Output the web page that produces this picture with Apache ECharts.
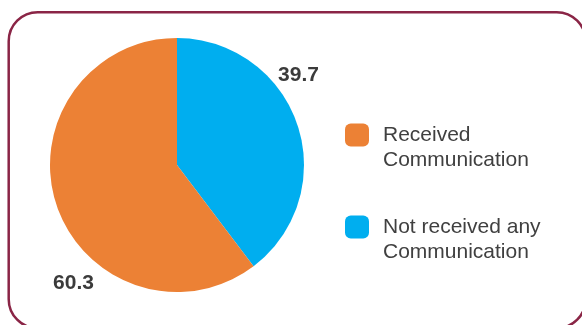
<!DOCTYPE html>
<html>
<head>
<meta charset="utf-8">
<script src="https://cdn.jsdelivr.net/npm/echarts@6/dist/echarts.min.js"></script>
<style>
  html, body { margin: 0; padding: 0; background: #ffffff; }
  #chart { width: 582px; height: 325px; }
</style>
</head>
<body>
<div id="chart"></div>
<script>
// Share of respondents by communication received
const categories = ['Not received any\nCommunication', 'Received\nCommunication'];
const shares = [39.7, 60.3];
const colors = ['#00AEEF', '#EC8135'];
const legendOrder = ['Received\nCommunication', 'Not received any\nCommunication'];

// Where each value label sits (pixels), indexed like the data
const labelSpots = [[298.5, 75], [73.5, 283]];

const chart = echarts.init(document.getElementById('chart'), null, { renderer: 'canvas' });

chart.setOption({
  backgroundColor: '#ffffff',
  animation: false,
  graphic: [{
    type: 'rect',
    shape: { x: 8.7, y: 12.2, width: 577, height: 316, r: 29 },
    style: { fill: 'none', stroke: '#8a2546', lineWidth: 2.5 },
    z: 0
  }],
  legend: {
    orient: 'vertical',
    left: 345,
    top: 97.5,
    padding: 0,
    itemWidth: 24,
    itemHeight: 23,
    itemGap: 17,
    data: legendOrder,
    icon: 'roundRect',
    selectedMode: false,
    // a leading blank line keeps the first text line level with the swatch
    formatter: name => '\n' + name,
    textStyle: {
      fontFamily: '"Liberation Sans", Arial, sans-serif',
      fontSize: 21,
      lineHeight: 25,
      color: '#404040',
      padding: [0, 0, 0, 9]
    }
  },
  series: [{
    type: 'pie',
    center: [177, 165],
    radius: [0, 127],
    startAngle: 90,
    clockwise: true,
    silent: true,
    avoidLabelOverlap: false,
    data: categories.map((name, i) => ({
      name: name,
      value: shares[i],
      itemStyle: { color: colors[i] }
    })),
    label: {
      show: true,
      position: 'inside',
      formatter: '{c}',
      fontFamily: '"Liberation Sans", Arial, sans-serif',
      fontSize: 21,
      fontWeight: 'bold',
      color: '#3b3b3b'
    },
    labelLine: { show: false },
    labelLayout: function (params) {
      const p = labelSpots[params.dataIndex];
      return { x: p[0], y: p[1], align: 'center', verticalAlign: 'middle' };
    }
  }]
});
</script>
</body>
</html>
